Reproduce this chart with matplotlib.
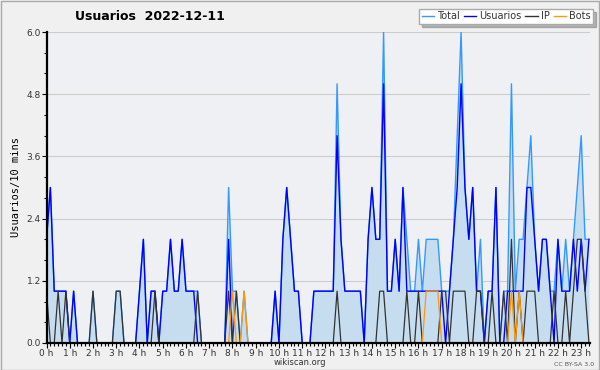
import matplotlib
matplotlib.use("Agg")
import matplotlib.pyplot as plt
from matplotlib.lines import Line2D
import numpy as np

# 10-minute samples from 0h00 to 23h20
usuarios = [2, 3, 1, 1, 1, 1, 0, 1, 0, 0, 0, 0, 0, 0, 0, 0, 0, 0, 0, 0, 0, 0, 0, 0,
            1, 2, 0, 1, 1, 0, 1, 1, 2, 1, 1, 2, 1, 1, 1, 0, 0, 0, 0, 0, 0, 0, 0, 2,
            0, 0, 0, 0, 0, 0, 0, 0, 0, 0, 0, 1, 0, 2, 3, 2, 1, 1, 0, 0, 0, 1, 1, 1,
            1, 1, 1, 4, 2, 1, 1, 1, 1, 1, 0, 2, 3, 2, 2, 5, 1, 1, 2, 1, 3, 1, 1, 1,
            1, 1, 1, 1, 1, 1, 1, 0, 1, 2, 3, 5, 3, 2, 3, 1, 1, 0, 1, 1, 3, 0, 0, 1,
            1, 1, 1, 1, 3, 3, 2, 1, 2, 2, 1, 0, 2, 1, 1, 1, 2, 1, 2, 1, 2]
total = [2, 3, 1, 1, 1, 1, 0, 1, 0, 0, 0, 0, 1, 0, 0, 0, 0, 0, 1, 1, 0, 0, 0, 0,
         1, 2, 0, 1, 1, 0, 1, 1, 2, 1, 1, 2, 1, 1, 1, 1, 0, 0, 0, 0, 0, 0, 0, 3,
         1, 1, 0, 1, 0, 0, 0, 0, 0, 0, 0, 1, 0, 2, 3, 2, 1, 1, 0, 0, 0, 1, 1, 1,
         1, 1, 1, 5, 2, 1, 1, 1, 1, 1, 0, 2, 3, 2, 2, 6, 1, 1, 2, 1, 3, 2, 1, 1,
         2, 1, 2, 2, 2, 2, 1, 1, 1, 2, 4, 6, 3, 2, 3, 1, 2, 0, 1, 1, 3, 0, 1, 1,
         5, 1, 2, 2, 3, 4, 2, 1, 2, 2, 1, 1, 2, 1, 2, 1, 2, 3, 4, 2, 2]
ip = [1, 0, 0, 1, 0, 1, 0, 0, 0, 0, 0, 0, 1, 0, 0, 0, 0, 0, 1, 1, 0, 0, 0, 0,
      0, 0, 0, 0, 1, 0, 0, 0, 0, 0, 0, 0, 0, 0, 0, 1, 0, 0, 0, 0, 0, 0, 0, 1,
      0, 1, 0, 0, 0, 0, 0, 0, 0, 0, 0, 0, 0, 0, 0, 0, 0, 0, 0, 0, 0, 0, 0, 0,
      0, 0, 0, 1, 0, 0, 0, 0, 0, 0, 0, 0, 0, 0, 1, 1, 0, 0, 0, 0, 0, 1, 0, 0,
      1, 0, 0, 0, 0, 0, 1, 1, 0, 1, 1, 1, 1, 0, 0, 1, 1, 0, 0, 1, 0, 0, 1, 0,
      2, 0, 1, 0, 1, 1, 1, 0, 0, 0, 0, 1, 0, 0, 1, 0, 1, 2, 2, 1, 0]
bots = [0] * 141
for k in [48, 51, 98, 99, 100, 101, 120, 122]:
    bots[k] = 1

hour_labels = [f"{h} h" for h in range(24)]
series_names = ["Total", "Usuarios", "IP", "Bots"]
series_colors = ["#3399ff", "#0000ff", "#333333", "#ff9900"]

x = np.arange(len(total))

fig = plt.figure(figsize=(6, 3.7), dpi=100, facecolor="#f0f0f0")
ax = fig.add_axes([0.0775, 0.073, 0.906, 0.8405], facecolor="#eef0f3")

ax.fill_between(x, total, color="#c6ddf0", lw=0)
ax.plot(x, total, color=series_colors[0], lw=1)
ax.plot(x, usuarios, color=series_colors[1], lw=1)
ax.plot(x, ip, color=series_colors[2], lw=0.9)
ax.plot(x, bots, color=series_colors[3], lw=0.9)

ax.set_xlim(0, 140.3)
ax.set_ylim(0, 6)
ax.set_yticks([0, 1.2, 2.4, 3.6, 4.8, 6.0])
ax.set_yticklabels(["0.0", "1.2", "2.4", "3.6", "4.8", "6.0"])
ax.set_yticks(np.arange(0, 6.01, 0.4), minor=True)
ax.set_xticks(np.arange(0, 139, 6))
ax.set_xticklabels(hour_labels)
ax.set_xticks(np.arange(0, 141, 1), minor=True)
ax.yaxis.grid(True, color="#cccccc", lw=0.8)
ax.set_axisbelow(True)
ax.tick_params(axis="both", which="major", labelsize=6.5, length=3.5, width=0.8,
               pad=0.5, colors="black", labelcolor="#333333")
ax.tick_params(axis="both", which="minor", length=2.5, width=0.8)
for s in ["top", "right"]:
    ax.spines[s].set_visible(False)
for s in ["left", "bottom"]:
    ax.spines[s].set_linewidth(1.6)
    ax.spines[s].set_zorder(5)

ax.set_ylabel("Usuarios/10 mins", family="DejaVu Sans Mono", fontsize=7.5, labelpad=4)

fig.text(0.125, 0.955, "Usuarios  2022-12-11", fontsize=9, fontweight="bold", va="center")
fig.text(0.5, 0.008, "wikiscan.org", fontsize=6, ha="center", va="bottom", color="#333333")
fig.text(0.99, 0.008, "CC BY-SA 3.0", fontsize=4.5, ha="right", va="bottom", color="#555555")

handles = [Line2D([], [], color=c, lw=1) for c in series_colors]
leg = ax.legend(handles, series_names, loc="upper right",
                bbox_to_anchor=(1.015, 1.09), ncol=4, fontsize=7, frameon=True,
                fancybox=False, shadow={"color": "#777777"}, handlelength=1.3,
                handletextpad=0.3, columnspacing=0.4, borderpad=0.25,
                labelcolor="#333333")
leg.get_frame().set_edgecolor("#aaaaaa")
leg.get_frame().set_facecolor("white")

fig.patches.append(plt.Rectangle((0.001, 0.001), 0.998, 0.997, transform=fig.transFigure,
                                 fill=False, edgecolor="#aaaaaa", lw=1))

fig.savefig("out.png", dpi=100, facecolor=fig.get_facecolor())
